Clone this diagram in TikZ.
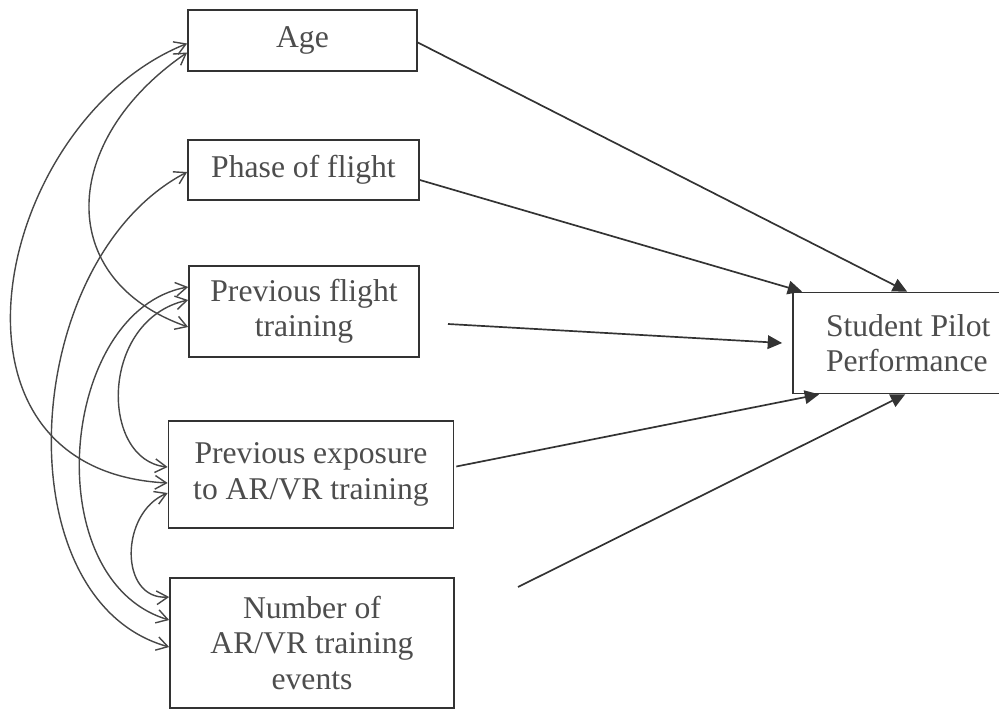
\documentclass[tikz,border=0pt]{standalone}
\usepackage{fontspec}
\setmainfont{Liberation Serif}
\usepackage{xcolor}
\definecolor{inkgray}{HTML}{333333}
\definecolor{pengray}{HTML}{474747}
\definecolor{txtgray}{HTML}{4D4D4D}
\usepackage{tikz}
\usetikzlibrary{arrows.meta, calc}
\newlength{\pix}
\setlength{\pix}{0.025cm}

\begin{document}
\begin{tikzpicture}[
  x=0.025cm, y=-0.025cm,
  font=\fontsize{22.5}{25}\selectfont,
  var/.style={draw=inkgray, line width=1.2pt, fill=white, text=txtgray,
              align=center, inner sep=0pt},
  flow/.style={-{Triangle[length=0.36cm, width=0.34cm]}, inkgray, line width=1.2pt},
  cov/.style={<->, >={Straight Barb[length=0.28cm, width=0.34cm]}, pengray, line width=1pt}
]
  \useasboundingbox (0,0) rectangle (999,710);
  \clip (0,0) rectangle (999,710);

  \node[var, minimum width=229\pix, minimum height=61\pix]  (age)   at (302.5,40.5) {Age};
  \node[var, minimum width=231\pix, minimum height=60\pix]  (phase) at (303.5,170)  {Phase of flight};
  \node[var, minimum width=230\pix, minimum height=91\pix]  (pft)   at (304,311.5)  {Previous flight\\training};
  \node[var, minimum width=285\pix, minimum height=107\pix] (pe)    at (311,474.5)  {Previous exposure\\to AR/VR training};
  \node[var, minimum width=284\pix, minimum height=130\pix] (num)   at (312,643)    {Number of\\AR/VR training\\events};
  % right side runs off the page
  \node[var, minimum width=280\pix, minimum height=101\pix, text width=214\pix, align=flush left]
        (spp) at (933,343) {Student Pilot\\Performance};

  \coordinate (pftout) at (448,324);
  \coordinate (numout) at (518,587);

  % paths to performance
  \draw[flow] ($(age.east)+(0,2)$) -- ($(spp.north west)+(115,0)$);
  \draw[flow] ($(phase.east)+(0,10)$) -- ($(spp.north west)+(10,0)$);
  \draw[flow] (pftout) -- ($(spp.west)+(-10,0)$);
  \draw[flow] ($(pe.east)+(2,-8)$) -- ($(spp.south west)+(27,0)$);
  \draw[flow] (numout) -- ($(spp.south west)+(113,0)$);

  % covariances
  \draw[cov] ($(age.west)+(0,12)$) .. controls +(-128,88) and +(-134,-47) .. ($(pft.west)+(0,15.5)$);
  \draw[cov] ($(age.west)+(0,3)$) .. controls +(-192,77) and +(-247,-13) .. ($(pe.west)+(0,8.5)$);
  \draw[cov] ($(phase.west)+(0,2)$) .. controls +(-168,88) and +(-168,-47) .. ($(num.west)+(0,4)$);
  \draw[cov] ($(pft.west)+(0,-24.5)$) .. controls +(-129,23) and +(-133,-40) .. ($(num.west)+(0,-23)$);
  \draw[cov] ($(pft.west)+(0,-11.5)$) .. controls +(-89,20) and +(-68,-7) .. ($(pe.west)+(0,-7.5)$);
  \draw[cov] ($(pe.west)+(0,18.5)$) .. controls +(-48,20) and +(-50,3) .. ($(num.west)+(0,-46)$);
\end{tikzpicture}
\end{document}
